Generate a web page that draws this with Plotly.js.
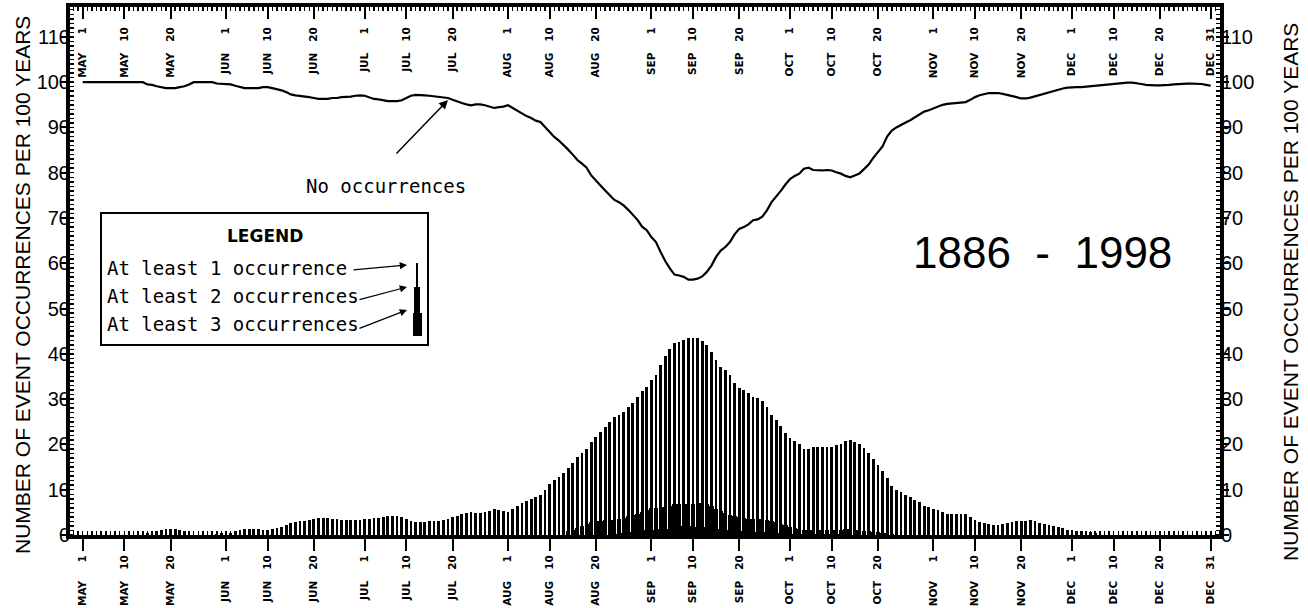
<!DOCTYPE html>
<html>
<head>
<meta charset="utf-8">
<script src="https://cdn.plot.ly/plotly-3.0.1.min.js"></script>
<style>html,body{margin:0;padding:0;background:#fff;}#chart{width:1308px;height:608px;}</style>
</head>
<body>
<div id="chart"></div>
<script>
// ---- DATA (day index 0 = May 1, 244 = Dec 31) ----
const months = ['MAY','JUN','JUL','AUG','SEP','OCT','NOV','DEC'];
const monthLengths = [31,30,31,31,30,31,30,31];
const tickDaysOfMonth = [1,10,20];

// Number of years (per 100) with at least 1 occurrence, one value per day May 1 .. Dec 31
const atLeast1 = [
  0,0,0,0,0,0,0,0,0,0,0,0,0,0,
  0.5,0.6,0.9,1.1,1.3,1.3,1.3,1.1,0.9,0.5,
  0,0,0,0,0,
  0.3,0.4,0.4,0.5,0.8,1.1,1.3,1.3,1.3,1.3,1.1,1.1,1.3,1.5,1.8,2.2,
  2.7,2.9,3.0,3.1,3.3,3.5,3.7,3.7,3.7,3.5,3.5,3.3,3.3,3.3,3.3,3.3,
  3.5,3.5,3.7,3.8,4.0,4.2,4.2,4.2,4.0,3.5,3.0,2.8,2.8,2.9,3.0,3.1,3.2,3.3,
  3.5,3.9,4.3,4.6,4.9,5.1,4.9,4.9,5.1,5.4,5.7,5.5,5.4,5.1,5.7,6.3,7.0,7.5,7.9,8.5,8.8,
  9.9,11.2,12.1,12.9,13.8,14.9,16.0,17.2,18.0,18.9,20.6,21.6,22.8,23.9,25.0,26.0,26.5,27.2,28.2,29.2,30.4,31.9,32.7,
  34.2,35.3,37.5,39.5,41.1,42.5,42.7,43.0,43.6,43.6,43.4,42.9,41.9,40.5,38.6,37.2,36.4,35.3,33.6,32.4,32.0,31.4,30.5,30.3,29.7,28.3,26.5,25.3,24.0,22.6,
  21.4,20.7,20.2,19.1,18.9,19.4,19.5,19.5,19.4,19.5,19.9,20.2,20.7,21.0,20.6,20.2,19.2,18.2,16.7,15.5,14.2,12.6,10.9,
  10.0,9.4,8.9,8.4,7.8,7.2,6.5,6.2,5.8,5.5,5.0,4.6,4.6,4.6,4.6,4.6,3.9,3.3,2.9,2.6,2.4,2.2,2.2,2.4,
  2.7,2.9,3.2,3.2,3.2,3.3,3.2,2.7,2.4,2.2,2.0,1.8,1.5,1.1,1.0,0.8,0.8,0.8,0.6,0.4,
  0,0,0,0,0,0,0,0,0,0,0,0,0,0,0,0,0,0,0,0,0,0,0,0,0
];

// At least 2 occurrences, starting at day 105 (Aug 14)
const atLeast2Start = 105;
const atLeast2 = [
  0.8,1.2,1.5,2.0,2.4,2.8,3.1,3.2,3.3,3.3,
  3.4,3.6,3.8,4.1,4.4,4.7,5.1,5.5,5.9,6.0,
  6.1,6.2,6.5,6.8,6.8,6.8,6.8,6.9,7.0,7.0,
  6.8,6.3,5.8,5.2,4.8,4.5,4.2,3.9,3.8,3.6,
  3.5,3.5,3.5,3.4,3.2,2.9,2.5,2.1,1.8,1.5,
  1.3,1.1,1.0,1.0,1.0,1.0,1.0,1.0,1.0,1.2,
  1.3,1.3,1.2,1.0,0.9,0.8,0.7,0.6,0.5,0.4,
  0.3
];

// At least 3 occurrences, starting at day 115 (Aug 24)
const atLeast3Start = 115;
const atLeast3 = [
  0.3,0.4,0.4,0.6,0.7,0.7,0.9,1.0,1.2,1.2,
  1.3,1.4,1.6,1.7,1.8,1.9,1.9,1.8,1.8,1.7,
  1.6,1.4,1.3,1.3,1.2,1.0,0.9,0.9,0.8,0.8,
  0.8,0.7,0.6,0.6,0.5,0.5,0.4,0.4,0.4,0.3,
  0.3,0.2,0.2,0.3,0.2,0.2,0.2,0.3,0.2,0.2,0.2
];

// No occurrences (per 100 years), one value per day
const noOccurrences = [
  100,100,100,100,100,100,100,100,100,100,100,100,100,100,
  99.5,99.4,99.1,98.9,98.7,98.7,98.7,98.9,99.1,99.5,
  100,100,100,100,100,
  99.7,99.6,99.6,99.5,99.2,98.9,98.7,98.7,98.7,98.7,98.9,98.9,98.7,98.5,98.2,97.8,
  97.3,97.1,97.0,96.9,96.7,96.5,96.3,96.3,96.3,96.5,96.5,96.7,96.7,96.8,97.0,97.1,
  97.0,96.6,96.3,96.2,96.0,95.8,95.8,95.8,96.0,96.5,97.0,97.2,97.2,97.1,97.0,96.9,96.8,96.7,
  96.5,96.1,95.7,95.4,95.1,94.9,95.1,95.1,94.9,94.6,94.3,94.5,94.6,94.9,94.3,93.7,93.0,92.5,92.1,91.5,91.2,
  90.1,88.8,87.9,87.1,86.2,85.1,84.0,82.8,82.0,81.1,79.4,78.4,77.2,76.1,75.0,74.0,73.5,72.8,71.8,70.8,69.6,68.1,67.3,
  65.8,64.7,62.5,60.5,58.9,57.5,57.3,57.0,56.4,56.4,56.6,57.1,58.1,59.5,61.4,62.8,63.6,64.7,66.4,67.6,68.0,68.6,69.5,69.7,70.3,71.7,73.5,74.7,76.0,77.4,
  78.6,79.3,79.8,80.9,81.1,80.6,80.5,80.5,80.6,80.5,80.1,79.8,79.3,79.0,79.4,79.8,80.8,81.8,83.3,84.5,85.8,88.0,89.3,
  90.0,90.6,91.1,91.6,92.2,92.8,93.5,93.8,94.2,94.5,95.0,95.2,95.3,95.3,95.4,95.6,96.1,96.7,97.1,97.4,97.6,97.6,97.6,97.4,
  97.2,97.0,96.7,96.4,96.4,96.6,96.9,97.2,97.5,97.7,98.0,98.3,98.6,98.8,98.9,98.9,98.9,99.0,99.2,99.3,
  99.3,99.5,99.6,99.7,99.8,99.9,99.9,99.9,99.8,99.6,99.4,99.3,99.3,99.3,99.3,99.4,99.5,99.6,99.7,99.7,99.7,99.7,99.6,99.4,99.2
];

const yTickValues = [0,10,20,30,40,50,60,70,80,90,100,110];
const axisTitle = 'NUMBER OF EVENT OCCURRENCES PER 100 YEARS';
const periodLabel = '1886\u00A0\u00A0-\u00A0\u00A01998';
const legendLabels = ['At least 1 occurrence','At least 2 occurrences','At least 3 occurrences'];

// ---- build ticks ----
const GAP = '\u00A0\u00A0\u00A0';
const PAD = '\u00A0\u00A0';
const tickvals = [], ticktext = [];
let start = 0;
months.forEach((m, i) => {
  tickDaysOfMonth.forEach(d => {
    tickvals.push(start + d - 1);
    ticktext.push(m + GAP + (d < 10 ? PAD + d : String(d)));
  });
  if (i === months.length - 1) {
    tickvals.push(start + monthLengths[i] - 1);
    ticktext.push(m + GAP + monthLengths[i]);
  }
  start += monthLengths[i];
});

const days1 = atLeast1.map((_, i) => i);
const days2 = atLeast2.map((_, i) => atLeast2Start + i);
const days3 = atLeast3.map((_, i) => atLeast3Start + i);
const daysLine = noOccurrences.map((_, i) => i);

const traces = [
  {type:'bar', x:days1, y:atLeast1, width:0.6, marker:{color:'#000', line:{width:0}}, hoverinfo:'skip', showlegend:false},
  {type:'bar', x:days2, y:atLeast2, width:0.9, marker:{color:'#000', line:{width:0}}, hoverinfo:'skip', showlegend:false},
  {type:'bar', x:days3, y:atLeast3, width:1.0, marker:{color:'#000', line:{width:0}}, hoverinfo:'skip', showlegend:false},
  {type:'scatter', mode:'lines', x:daysLine, y:noOccurrences, line:{color:'#000', width:2.2}, hoverinfo:'skip', showlegend:false},
  {type:'scatter', mode:'lines', x:[], y:[], xaxis:'x2', yaxis:'y', showlegend:false},
  {type:'scatter', mode:'lines', x:[], y:[], xaxis:'x3', yaxis:'y', showlegend:false},
  {type:'scatter', mode:'lines', x:[], y:[], xaxis:'x', yaxis:'y2', showlegend:false},
  {type:'scatter', mode:'lines', x:[], y:[], xaxis:'x', yaxis:'y3', showlegend:false},
  {type:'scatter', mode:'lines', x:[], y:[], xaxis:'x', yaxis:'y4', showlegend:false}
];

const xRange = [-2.75, 246];
const yRange = [0, 116.6];
const tickFontX = {family:'DejaVu Sans, sans-serif', size:10.5, color:'#000', weight:'bold'};
const tickFontY = {family:'Liberation Sans, Arial, sans-serif', size:20, color:'#000'};
const titleFont = {family:'Liberation Sans, Arial, sans-serif', size:21, color:'#000'};

// paper helpers (plot area px: x 70..1220, y 7..535)
const PX = px => (px - 70) / 1150;
const PY = py => (535 - py) / 528;

const mono = 'DejaVu Sans Mono, Liberation Mono, monospace';

function note(px, py, text, font, anchor, angle) {
  return {xref:'paper', yref:'paper', x:PX(px), y:PY(py), text:text, showarrow:false,
          xanchor:anchor || 'center', yanchor:'middle', font:font, textangle:angle || 0};
}
function arrow(hx, hy, tx, ty, w) {
  return {xref:'paper', yref:'paper', x:PX(hx), y:PY(hy), text:'', showarrow:true,
          arrowhead:2, arrowsize:1.2, arrowwidth:w, arrowcolor:'#000', ax:tx - hx, ay:ty - hy};
}

const annotations = [
  note(22, 285, axisTitle, titleFont, 'center', -90),
  note(1290, 292, axisTitle, titleFont, 'center', -90),
  note(386, 186, 'No occurrences', {family:mono, size:19, color:'#000'}),
  arrow(448, 100, 395, 155, 1.5),
  note(265, 236, 'LEGEND', {family:'DejaVu Sans, sans-serif', size:17, color:'#000', weight:'bold'}),
  note(105, 268, legendLabels[0], {family:mono, size:19, color:'#000'}, 'left'),
  note(105, 296, legendLabels[1], {family:mono, size:19, color:'#000'}, 'left'),
  note(105, 324, legendLabels[2], {family:mono, size:19, color:'#000'}, 'left'),
  arrow(407, 265, 352, 270, 1.2),
  arrow(407, 287, 358, 300, 1.2),
  arrow(407, 310, 358, 329, 1.2),
  note(1042, 252, periodLabel, {family:'Liberation Sans, Arial, sans-serif', size:44, color:'#000'})
];

const shapes = [
  {type:'rect', xref:'paper', yref:'paper', x0:PX(101), x1:PX(428), y0:PY(345), y1:PY(213), line:{color:'#000', width:2}, fillcolor:'#fff', layer:'below'},
  {type:'rect', xref:'paper', yref:'paper', x0:PX(416), x1:PX(418), y0:PY(335), y1:PY(263), line:{width:0}, fillcolor:'#000'},
  {type:'rect', xref:'paper', yref:'paper', x0:PX(414), x1:PX(420), y0:PY(335), y1:PY(287), line:{width:0}, fillcolor:'#000'},
  {type:'rect', xref:'paper', yref:'paper', x0:PX(413), x1:PX(422), y0:PY(336), y1:PY(313), line:{width:0}, fillcolor:'#000'}
];

const minorX = {ticks:'inside', ticklen:4, tickwidth:1.5, tickcolor:'#000', tickmode:'linear', tick0:0, dtick:1, showgrid:false};
const minorY = {ticks:'inside', ticklen:4, tickwidth:1.5, tickcolor:'#000', tickmode:'linear', tick0:0, dtick:1, showgrid:false};
const frameY = {range:yRange, tickmode:'array', tickvals:yTickValues, ticks:'outside', ticklen:5, tickwidth:2, tickcolor:'#000',
  showticklabels:false, showline:true, linewidth:4, linecolor:'#000', showgrid:false, zeroline:false, minor:minorY, fixedrange:true};
const labelY = {range:yRange, tickmode:'array', tickvals:yTickValues, ticks:'', showticklabels:true, tickfont:tickFontY,
  showline:false, showgrid:false, zeroline:false, fixedrange:true};

const layout = {
  width:1308, height:608,
  margin:{l:70, r:88, t:7, b:73},
  paper_bgcolor:'#fff', plot_bgcolor:'#fff',
  barmode:'overlay', bargap:0,
  showlegend:false,
  xaxis:{range:xRange, tickmode:'array', tickvals:tickvals, ticktext:ticktext, tickangle:-90,
    ticks:'outside', ticklen:12, tickwidth:2, tickcolor:'#000',
    showline:true, linewidth:4, linecolor:'#000', showgrid:false, zeroline:false,
    tickfont:tickFontX, minor:minorX, fixedrange:true},
  xaxis2:{overlaying:'x', side:'top', anchor:'y', range:xRange, tickmode:'array', tickvals:tickvals, showticklabels:false,
    ticks:'inside', ticklen:12, tickwidth:2, tickcolor:'#000',
    showline:true, linewidth:4, linecolor:'#000', showgrid:false, zeroline:false,
    minor:minorX, fixedrange:true},
  xaxis3:{overlaying:'x', side:'bottom', anchor:'free', position:PY(24), range:xRange, tickmode:'array', tickvals:tickvals, ticktext:ticktext, tickangle:-90,
    ticks:'', showline:false, showgrid:false, zeroline:false, tickfont:tickFontX, fixedrange:true},
  yaxis:Object.assign({side:'left', anchor:'x'}, frameY),
  yaxis2:Object.assign({overlaying:'y', side:'right', anchor:'x'}, frameY),
  yaxis3:Object.assign({overlaying:'y', side:'left', anchor:'free', position:0, ticksuffix:'\u00A0'}, labelY),
  yaxis4:Object.assign({overlaying:'y', side:'right', anchor:'free', position:1, tickprefix:'\u00A0'}, labelY),
  annotations:annotations,
  shapes:shapes
};

Plotly.newPlot('chart', traces, layout, {displayModeBar:false, staticPlot:true});
</script>
</body>
</html>
